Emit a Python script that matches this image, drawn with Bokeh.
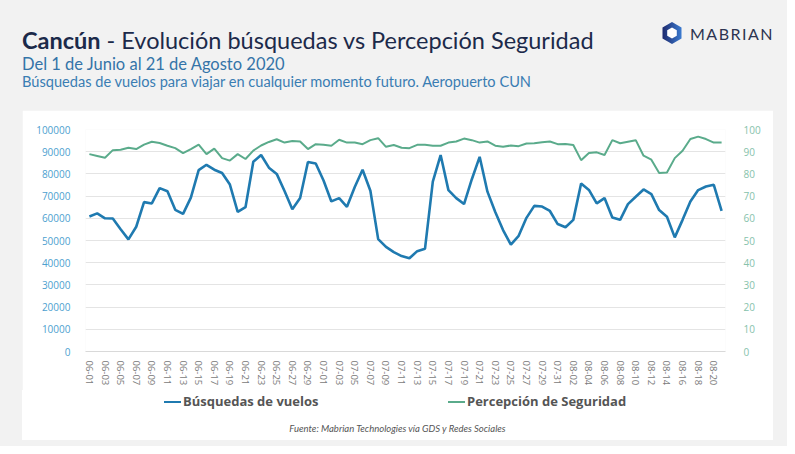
from bokeh.plotting import figure
from bokeh.models import (ColumnDataSource, Range1d, LinearAxis, FixedTicker, Div, Spacer,
                          NumeralTickFormatter)
from bokeh.layouts import column, row
from bokeh.embed import file_html
from bokeh.resources import INLINE
import pandas as pd

# Días del 1 de junio al 21 de agosto 2020
dias = pd.date_range("2020-06-01", "2020-08-21").strftime("%m-%d").tolist()

# Búsquedas de vuelos (eje izquierdo)
busquedas = [
    60800, 62200, 60000, 59900, 55100, 50500, 56200, 67300, 66700, 73600,
    72200, 63800, 62000, 69300, 81700, 84100, 81900, 80400, 75200, 62900,
    65000, 85500, 88500, 82800, 80000, 72300, 64100, 69100, 85400, 84700,
    77000, 67600, 69100, 65200, 74100, 81900, 72400, 50600, 47100, 44800,
    43000, 42000, 45200, 46300, 76500, 88500, 72700, 69100, 66400, 77600,
    87700, 72000, 62800, 54700, 48100, 52100, 60200, 65600, 65300, 63300,
    57400, 56000, 59300, 75700, 72800, 66700, 69100, 60400, 59300, 66400,
    69700, 73000, 70900, 63700, 60700, 51400, 59300, 67600, 72700, 74300,
    75100, 63400,
]

# Percepción de seguridad (eje derecho)
seguridad = [
    88.9, 88.1, 87.3, 90.7, 90.9, 91.8, 91.2, 93.2, 94.5, 93.9,
    92.7, 91.6, 89.4, 91.2, 93.2, 88.9, 91.4, 87.1, 86.0, 88.9,
    86.7, 90.5, 92.8, 94.4, 95.6, 94.1, 94.8, 94.6, 91.2, 93.4,
    93.1, 92.7, 95.4, 94.1, 94.1, 93.4, 95.2, 96.1, 92.2, 93.0,
    91.8, 91.6, 93.1, 93.1, 92.7, 92.7, 94.1, 94.6, 95.9, 95.2,
    94.1, 94.6, 92.7, 92.2, 92.8, 92.5, 93.7, 93.8, 94.3, 94.6,
    93.4, 93.5, 93.0, 86.2, 89.4, 89.7, 88.5, 95.2, 93.8, 94.5,
    95.2, 88.2, 86.4, 80.4, 80.6, 87.1, 90.4, 95.7, 96.8, 95.7,
    94.1, 94.1,
]

ticks_izq = list(range(0, 100001, 10000))
ticks_der = list(range(0, 101, 10))

GRIS = "#f2f2f2"
AZUL = "#1f7ab0"
VERDE = "#5aab8b"

# ---------------- cabecera ----------------
cabecera_html = """
<div style="position:relative;width:787px;height:110px;background:#f2f2f2;">
  <span style="position:absolute;left:22px;top:29px;font-family:Lato;font-size:23.5px;
        line-height:23.5px;color:#1c2a4a;white-space:nowrap;"><b>Cancún</b> - Evolución búsquedas vs Percepción Seguridad</span>
  <span style="position:absolute;left:22px;top:56px;font-family:Lato;font-size:16.5px;
        line-height:16.5px;color:#3474a8;white-space:nowrap;">Del 1 de Junio al 21 de Agosto 2020</span>
  <span style="position:absolute;left:22px;top:75px;font-family:Lato;font-size:14.6px;
        line-height:14.6px;color:#3a7db3;white-space:nowrap;">Búsquedas de vuelos para viajar en cualquier momento futuro. Aeropuerto CUN</span>
  <svg style="position:absolute;left:660px;top:21px;" width="24" height="24" viewBox="660 21 24 24">
    <defs><linearGradient id="hx" x1="0" y1="0" x2="1" y2="0">
      <stop offset="0" stop-color="#1e2a6e"/><stop offset="1" stop-color="#3b7bd0"/>
    </linearGradient></defs>
    <polygon points="672,22 662.5,27.5 662.5,38.5 672,44 681.5,38.5 681.5,27.5" fill="url(#hx)"/>
    <polygon points="672,27.5 667.2,30.2 667.2,35.8 672,38.5 676.8,35.8 676.8,30.2" fill="white"/>
  </svg>
  <span style="position:absolute;left:690px;top:25.5px;font-family:Lato;font-size:16px;
        line-height:16px;letter-spacing:1.5px;color:#2c3450;white-space:nowrap;">MABRIAN</span>
</div>
"""
cabecera = Div(text=cabecera_html, width=787, height=110, margin=0,
               styles={"background-color": GRIS})

# ---------------- gráfico ----------------
src = ColumnDataSource(data={
    'i': list(range(len(dias))),
    'busq': busquedas,
    'seg': seguridad,
})

p = figure(width=751, height=280, title=None, output_backend="svg", toolbar_location=None,
           x_range=Range1d(-0.5, len(dias) - 0.5), y_range=Range1d(0, 100000),
           min_border_left=63, min_border_right=48, min_border_top=19, min_border_bottom=39,
           border_fill_color="white", background_fill_color="white",
           outline_line_color=None)
p.extra_y_ranges = {"pct": Range1d(0, 100)}

p.line('i', 'busq', source=src, color=AZUL, line_width=2.6)
p.line('i', 'seg', source=src, color=VERDE, line_width=2, y_range_name="pct")

xa = p.xaxis[0]
xa.ticker = FixedTicker(ticks=list(range(0, len(dias), 2)))
xa.major_label_overrides = {i: d for i, d in enumerate(dias)}
xa.major_label_orientation = "vertical"
xa.major_label_text_font = "Open Sans"
xa.major_label_text_font_size = "9.5px"
xa.major_label_text_color = "#7a7a7a"
xa.major_label_standoff = 3
xa.axis_line_color = "#d9d9d9"
xa.major_tick_line_color = None
xa.minor_tick_line_color = None

ya = p.yaxis[0]
ya.ticker = FixedTicker(ticks=ticks_izq)
ya.formatter = NumeralTickFormatter(format="0")
ya.axis_line_color = None
ya.major_tick_line_color = None
ya.minor_tick_line_color = None
ya.major_label_text_font = "Open Sans"
ya.major_label_text_font_size = "10px"
ya.major_label_text_color = "#4d9fcf"
ya.major_label_standoff = 9

ra = LinearAxis(y_range_name="pct", ticker=FixedTicker(ticks=ticks_der))
ra.axis_line_color = None
ra.major_tick_line_color = None
ra.minor_tick_line_color = None
ra.major_label_text_font = "Open Sans"
ra.major_label_text_font_size = "10px"
ra.major_label_text_color = "#86c2ab"
ra.major_label_standoff = 12
p.add_layout(ra, "right")

p.xgrid.visible = False
p.ygrid.ticker = FixedTicker(ticks=ticks_izq)
p.ygrid.grid_line_color = "#e4e4e4"

# ---------------- leyenda y fuente ----------------
pie_html = f"""
<div style="position:relative;width:751px;height:50px;background:white;">
  <span style="position:absolute;left:142px;top:10.7px;width:17px;height:2.6px;background:{AZUL};"></span>
  <span style="position:absolute;left:161px;top:5px;font-family:'Open Sans';font-weight:bold;
        font-size:13px;line-height:13px;color:#555555;white-space:nowrap;">Búsquedas de vuelos</span>
  <span style="position:absolute;left:426px;top:11px;width:17px;height:2px;background:{VERDE};"></span>
  <span style="position:absolute;left:445px;top:5px;font-family:'Open Sans';font-weight:bold;
        font-size:13px;line-height:13px;color:#555555;white-space:nowrap;">Percepción de Seguridad</span>
  <span style="position:absolute;left:0;width:751px;top:33.5px;text-align:center;font-family:Lato;
        font-style:italic;font-size:9.5px;line-height:9.5px;color:#555555;white-space:nowrap;">Fuente: Mabrian Technologies vía GDS y Redes Sociales</span>
</div>
"""
pie = Div(text=pie_html, width=751, height=50, margin=0, styles={"background-color": "white"})


def hueco(w, h):
    return Spacer(width=w, height=h, margin=0, styles={"background-color": GRIS})


layout = column(
    cabecera,
    row(hueco(22, 280), p, hueco(14, 280), spacing=0),
    row(hueco(22, 50), pie, hueco(14, 50), spacing=0),
    hueco(787, 6),
    spacing=0, styles={"background-color": GRIS},
)

open("out.html", "w").write(file_html(layout, INLINE))
